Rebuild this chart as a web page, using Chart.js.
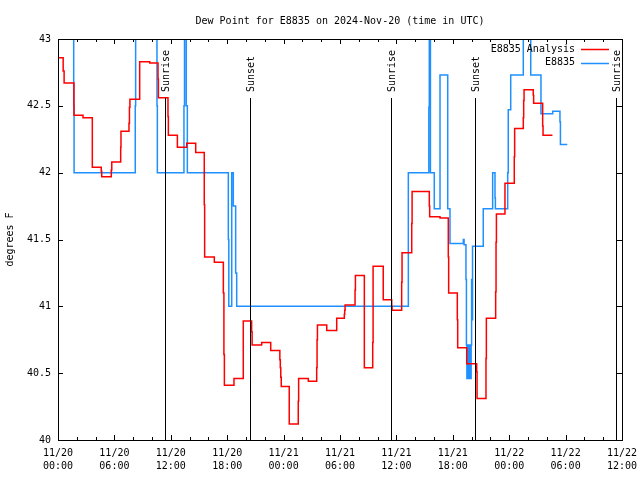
<!DOCTYPE html>
<html>
<head>
<meta charset="utf-8">
<script src="https://cdn.jsdelivr.net/npm/chart.js@4/dist/chart.umd.min.js"></script>
<style>
html,body{margin:0;padding:0;background:#fff;}
canvas{display:block;}
</style>
</head>
<body>
<canvas id="c" width="640" height="480"></canvas>
<script>
// ---- Data (hours since 2024-11-20 00:00 UTC) ----
const tickHours = [0, 6, 12, 18, 24, 30, 36, 42, 48, 54, 60];
const tickDates = ['11/20','11/20','11/20','11/20','11/21','11/21','11/21','11/21','11/22','11/22','11/22'];
const tickTimes = ['00:00','06:00','12:00','18:00','00:00','06:00','12:00','18:00','00:00','06:00','12:00'];

const eventHours  = [11.4, 20.43, 35.42, 44.4, 59.4];
const eventLabels = ['Sunrise', 'Sunset', 'Sunrise', 'Sunset', 'Sunrise'];

const analysisHours = [
  0, 0.55, 0.65, 1.70, 2.66, 3.65, 4.60, 4.65, 5.67, 5.72,
  6.67, 6.70, 7.55, 7.60, 7.65, 8.69, 9.76, 10.64, 10.68, 11.70,
  11.74, 12.70, 13.69, 14.65, 15.56, 15.60, 16.63, 17.59, 17.65, 17.70,
  18.72, 19.71, 20.60, 20.65, 21.67, 22.63, 23.60, 23.65, 23.70, 23.75,
  24.60, 25.56, 25.60, 26.63, 27.52, 27.56, 27.60, 28.59, 29.65, 30.46,
  30.50, 30.54, 31.60, 31.64, 32.59, 33.48, 33.52, 34.60, 35.50, 35.54,
  36.56, 36.60, 37.63, 37.67, 39.50, 39.54, 40.64, 41.52, 41.56, 42.48,
  42.52, 43.48, 44.54, 44.58, 45.53, 45.57, 46.56, 46.60, 46.64, 47.55,
  48.54, 48.58, 49.50, 49.54, 49.58, 50.56, 50.60, 51.56, 51.60, 52.60
];
const analysisValues = [
  42.86, 42.76, 42.67, 42.43, 42.41, 42.04, 42.01, 41.97, 42.02, 42.08,
  42.19, 42.31, 42.37, 42.49, 42.55, 42.83, 42.82, 42.70, 42.56, 42.42,
  42.28, 42.19, 42.22, 42.15, 41.76, 41.37, 41.33, 41.10, 40.64, 40.41,
  40.46, 40.89, 40.81, 40.71, 40.73, 40.67, 40.60, 40.54, 40.47, 40.40,
  40.12, 40.29, 40.46, 40.44, 40.54, 40.75, 40.86, 40.82, 40.91, 40.94,
  40.97, 41.01, 41.12, 41.23, 40.54, 40.73, 41.30, 41.05, 41.00, 40.97,
  41.18, 41.40, 41.62, 41.86, 41.75, 41.67, 41.66, 41.37, 41.10, 40.90,
  40.69, 40.57, 40.51, 40.31, 40.61, 40.91, 41.11, 41.48, 41.69, 41.92,
  42.12, 42.33, 42.41, 42.54, 42.62, 42.58, 42.52, 42.35, 42.28, 42.28
];

const stationHours = [
  0, 1.67, 1.71, 8.22, 8.26, 10.53, 10.57, 13.40, 13.46, 13.64,
  13.76, 18.12, 18.17, 18.48, 18.65, 18.90, 19.01, 37.27, 39.45, 39.50,
  39.62, 40.03, 40.64, 41.46, 41.70, 43.12, 43.20, 43.40, 43.45, 43.50,
  43.60, 43.70, 43.80, 43.88, 43.95, 44.00, 44.03, 44.06, 44.08, 44.10,
  45.24, 46.24, 46.49, 46.53, 47.84, 47.90, 48.16, 49.50, 50.29, 51.38,
  52.63, 53.40, 53.45, 54.18
];
const stationValues = [
  43.6, 42.50, 42.00, 42.50, 43.6, 42.50, 42.00, 42.50, 43.6, 42.50,
  42.00, 41.50, 41.00, 42.00, 41.75, 41.25, 41.00, 42.00, 42.49, 43.6,
  42.00, 41.73, 42.73, 41.73, 41.47, 41.50, 41.46, 41.20, 40.71, 40.46,
  40.71, 40.46, 40.71, 40.46, 40.71, 41.20, 40.90, 41.20, 40.90, 41.45,
  41.73, 42.00, 41.81, 41.73, 42.00, 42.47, 42.73, 43.6, 42.73, 42.44,
  42.46, 42.38, 42.21, 42.21
];

const FONT = 'DejaVu Sans Mono';

const gnuplotDecor = {
  id: 'gnuplotDecor',
  afterDatasetsDraw(chart) {
    const ctx = chart.ctx;
    const a = chart.chartArea;
    const xs = chart.scales.x, ys = chart.scales.y;
    ctx.save();
    ctx.strokeStyle = '#000';
    ctx.lineWidth = 1;
    // border
    ctx.strokeRect(Math.round(a.left) + 0.5, Math.round(a.top) + 0.5,
                   Math.round(a.right - a.left), Math.round(a.bottom - a.top));
    // x ticks (major every 6h, minor every 2h), inward, bottom and top
    ctx.beginPath();
    for (let h = xs.min; h <= xs.max; h += 2) {
      const px = Math.round(xs.getPixelForValue(h)) + 0.5;
      const len = (h % 6 === 0) ? 5 : 3;
      ctx.moveTo(px, a.bottom); ctx.lineTo(px, a.bottom - len);
      ctx.moveTo(px, a.top); ctx.lineTo(px, a.top + len);
    }
    // y ticks, inward, left and right
    ys.ticks.forEach(t => {
      const py = Math.round(ys.getPixelForValue(t.value)) + 0.5;
      ctx.moveTo(a.left, py); ctx.lineTo(a.left + 5, py);
      ctx.moveTo(a.right, py); ctx.lineTo(a.right - 5, py);
    });
    ctx.stroke();

    // sunrise / sunset markers
    ctx.font = '10px "' + FONT + '"';
    ctx.fillStyle = '#000';
    eventHours.forEach((h, i) => {
      const px = Math.round(xs.getPixelForValue(h)) + 0.5;
      const lineTop = a.top + 59;
      ctx.beginPath();
      ctx.moveTo(px, a.bottom);
      ctx.lineTo(px, lineTop);
      ctx.stroke();
      ctx.save();
      ctx.translate(px + 1, lineTop - 6);
      ctx.rotate(-Math.PI / 2);
      ctx.textAlign = 'left';
      ctx.textBaseline = 'middle';
      ctx.fillText(eventLabels[i], 0, 0);
      ctx.restore();
    });

    // legend (gnuplot style: text then sample line)
    ctx.textAlign = 'right';
    ctx.textBaseline = 'middle';
    chart.data.datasets.forEach((ds, i) => {
      const y = a.top + 10 + i * 13.5;
      ctx.fillStyle = '#000';
      ctx.fillText(ds.label, a.right - 47, y);
      ctx.strokeStyle = ds.borderColor;
      ctx.lineWidth = 1.5;
      ctx.beginPath();
      ctx.moveTo(a.right - 41, Math.round(y) + 0.5);
      ctx.lineTo(a.right - 13, Math.round(y) + 0.5);
      ctx.stroke();
    });
    ctx.restore();
  }
};

new Chart(document.getElementById('c'), {
  type: 'line',
  data: {
    datasets: [
      {
        label: 'E8835 Analysis',
        data: analysisHours.map((h, i) => ({ x: h, y: analysisValues[i] })),
        borderColor: '#ff0000',
        borderWidth: 1.5,
        pointRadius: 0,
        stepped: 'before',
        fill: false
      },
      {
        label: 'E8835',
        data: stationHours.map((h, i) => ({ x: h, y: stationValues[i] })),
        borderColor: '#1e90ff',
        borderWidth: 1.5,
        pointRadius: 0,
        stepped: 'before',
        fill: false
      }
    ]
  },
  options: {
    responsive: false,
    animation: false,
    devicePixelRatio: 1,
    layout: { padding: { left: 0, right: 18, top: 0, bottom: 0 } },
    plugins: {
      legend: { display: false },
      tooltip: { enabled: false },
      title: {
        display: true,
        text: 'Dew Point for E8835 on 2024-Nov-20 (time in UTC)',
        fullSize: false,
        color: '#000',
        font: { family: FONT, size: 10, weight: 'normal', lineHeight: 1.2 },
        padding: { top: 15, bottom: 12 }
      }
    },
    scales: {
      x: {
        type: 'linear',
        min: 0,
        max: 60,
        afterBuildTicks: s => { s.ticks = tickHours.map(v => ({ value: v })); },
        afterFit: s => { s.height = 40; s.paddingLeft = 0; s.paddingRight = 0; },
        ticks: {
          autoSkip: false,
          maxRotation: 0,
          padding: 7,
          color: '#000',
          font: { family: FONT, size: 10, lineHeight: 1.3 },
          callback: (v, i) => [tickDates[i], tickTimes[i]]
        },
        grid: { display: false, drawTicks: false },
        border: { display: false }
      },
      y: {
        min: 40,
        max: 43,
        afterFit: s => { s.width = 58; },
        ticks: {
          stepSize: 0.5,
          padding: 7,
          color: '#000',
          font: { family: FONT, size: 10 },
          callback: v => String(Math.round(v * 10) / 10)
        },
        grid: { display: false, drawTicks: false },
        border: { display: false },
        title: {
          display: true,
          text: 'degrees F',
          color: '#000',
          font: { family: FONT, size: 10, lineHeight: 1.2 },
          padding: { top: 4, bottom: 0 }
        }
      }
    }
  },
  plugins: [gnuplotDecor]
});
</script>
</body>
</html>
